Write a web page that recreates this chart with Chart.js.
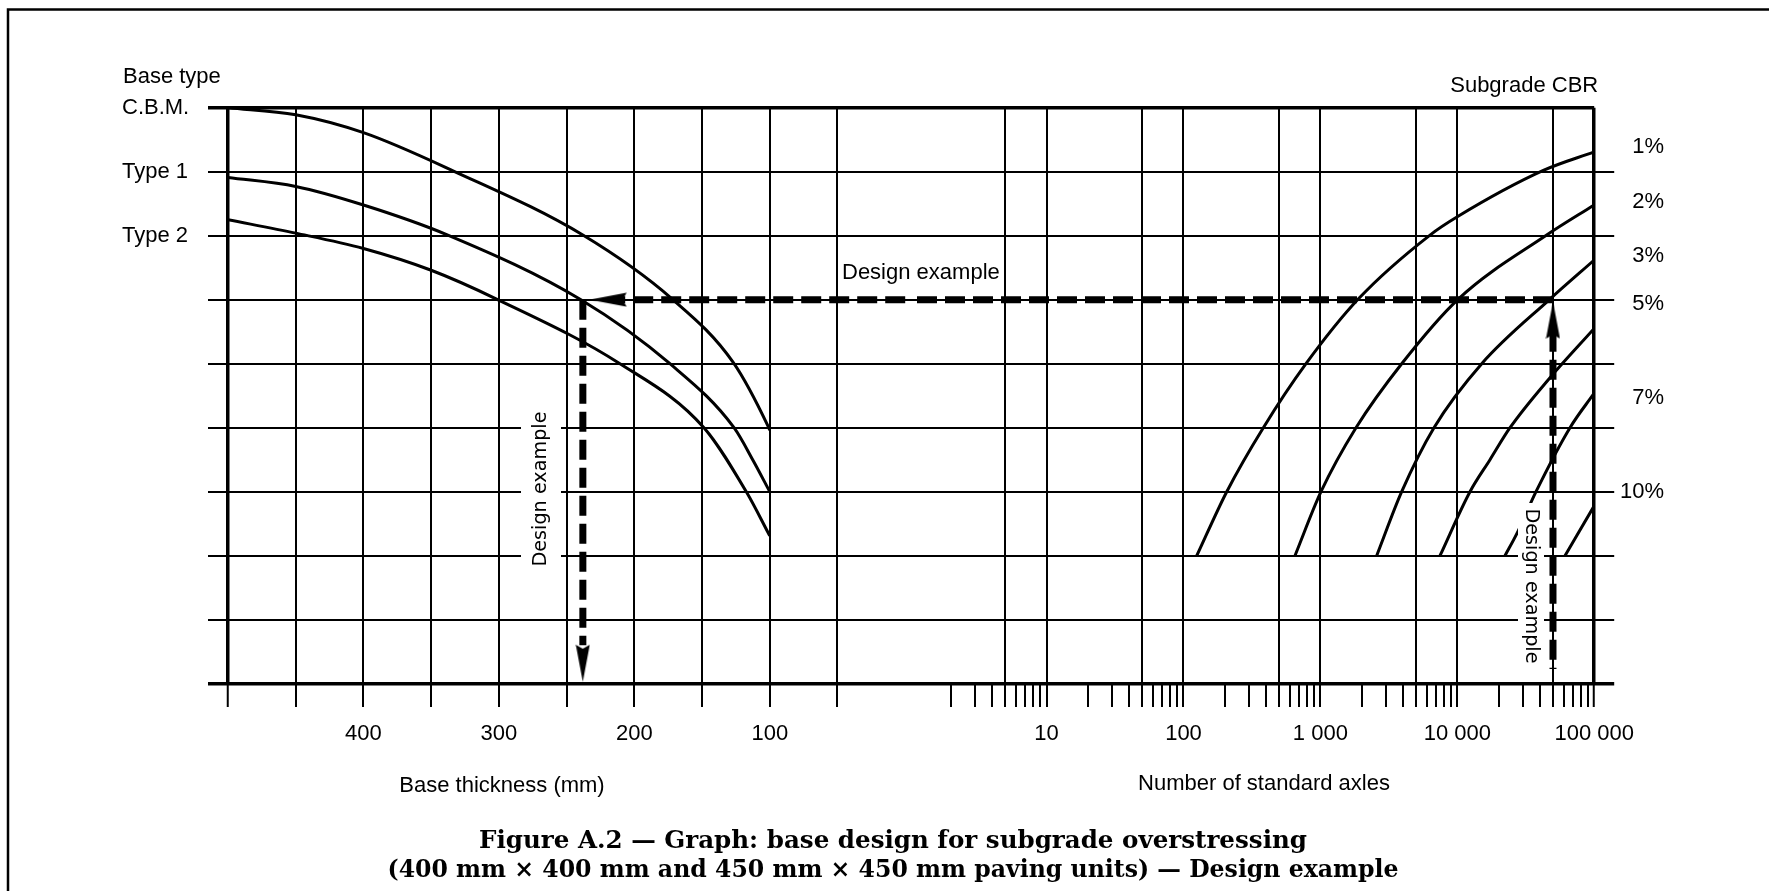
<!DOCTYPE html>
<html>
<head>
<meta charset="utf-8">
<title>Figure A.2 — base design for subgrade overstressing</title>
<script src="https://cdn.jsdelivr.net/npm/chart.js@4.4.1/dist/chart.umd.min.js"></script>
<style>
  html, body { margin: 0; padding: 0; background: #fff; }
  #wrap { width: 1769px; height: 891px; }
</style>
</head>
<body>
<div id="wrap"><canvas id="chart" width="1769" height="891"></canvas></div>
<script>
(function() {
  "use strict";

  const ISO_FONT = "'Liberation Sans', Arial, sans-serif";
  const ROT_FONT = "'DejaVu Sans', sans-serif";
  const CAP_FONT = "'DejaVu Serif', serif";

  // ── Axes / ticks ──
  const thicknessGrid = [500, 450, 400, 350, 300, 250, 200, 150, 100, 50];
  const thicknessLabels = [400, 300, 200, 100];
  const axleTicks = [2, 3, 4, 5, 6, 7, 8, 9,
    10, 20, 30, 40, 50, 60, 70, 80, 90,
    100, 200, 300, 400, 500, 600, 700, 800, 900,
    1000, 2000, 3000, 4000, 5000, 6000, 7000, 8000, 9000,
    10000, 20000, 30000, 40000, 50000, 60000, 70000, 80000, 90000,
    100000];
  const axleGrid = [5, 10, 50, 100, 500, 1000, 5000, 10000, 50000, 100000];
  const axleLabelValues = [10, 100, 1000, 10000, 100000];
  const axleLabelText = ['10', '100', '1 000', '10 000', '100 000'];
  const rows = [0, 1, 2, 3, 4, 5, 6, 7, 8, 9];
  const baseTypes = ['C.B.M.', 'Type 1', 'Type 2'];
  const baseTypeRows = [9, 8, 7];
  const cbrLabels = ['1%', '2%', '3%', '5%', '7%', '10%'];
  const cbrLabelRows = [8.39, 7.53, 6.68, 5.93, 4.46, 3.0];

  // ── Base curves (thickness mm -> row) ──
  const cbmT   = [500, 450, 400, 333.5, 238, 172, 127, 101.2, 100];
  const cbmY   = [9.0, 8.89, 8.61, 8.01, 7.01, 6.01, 5.02, 4.02, 3.96];
  const type1T = [500, 450, 400, 337.7, 239.4, 173.7, 126.4, 112.1, 100];
  const type1Y = [7.91, 7.77, 7.48, 7.01, 6.0, 5.0, 4.0, 3.48, 3.0];
  const type2T = [500, 450, 400, 350, 301.7, 210.6, 148.6, 117.1, 100];
  const type2Y = [7.25, 7.04, 6.8, 6.46, 6.01, 5.0, 4.0, 2.99, 2.31];

  // ── Subgrade CBR curves (number of standard axles -> row) ──
  const cbr1N  = [125, 207, 383, 785, 1890, 6320, 10070, 42480, 100000];
  const cbr1Y  = [2.0, 3.0, 4.0, 5.0, 6.01, 7.01, 7.3, 8.02, 8.31];
  const cbr2N  = [652, 1010, 1820, 3925, 10170, 44980, 100000];
  const cbr2Y  = [2.0, 3.0, 4.0, 5.0, 6.01, 7.01, 7.48];
  const cbr3N  = [2578, 3925, 6757, 15080, 47550, 100000];
  const cbr3Y  = [2.0, 3.0, 4.0, 5.0, 6.01, 6.62];
  const cbr5N  = [7475, 12380, 17330, 24270, 46210, 100000];
  const cbr5Y  = [2.0, 3.0, 3.5, 4.0, 4.75, 5.55];
  const cbr7N  = [22300, 27160, 37580, 66560, 100000];
  const cbr7Y  = [2.0, 2.34, 3.0, 4.0, 4.54];
  const cbr10N = [61190, 100000];
  const cbr10Y = [2.0, 2.78];

  // ── Design example ──
  const designRow = 6;
  const designThickness = 238;
  const designAxles = 50000;
  const designHorizAxles = [50000, 1];
  const designHorizThick = [0, 210];
  const designDownRows = [6, 0.6];
  const designUpRows = [5.5, 0.23];
  const arrowLeftTip = 233;
  const arrowDownTip = 0.03;
  const arrowUpTip = 5.97;

  // Arrow head drawn into a small canvas, tip at the centre, pointing up
  function makeArrow() {
    const c = document.createElement('canvas');
    c.width = 15; c.height = 76;
    const g = c.getContext('2d');
    g.fillStyle = '#000';
    g.beginPath();
    g.moveTo(7.5, 38);
    g.lineTo(14.5, 75);
    g.lineTo(7.5, 71);
    g.lineTo(0.5, 75);
    g.closePath();
    g.fill();
    return c;
  }
  const arrowImg = makeArrow();

  function pairs(xs, ys) { return xs.map((x, i) => ({ x: x, y: ys[i] })); }

  function curve(xAxisID, xs, ys) {
    return {
      xAxisID, yAxisID: 'y', data: pairs(xs, ys),
      borderColor: '#000', borderWidth: 3, pointRadius: 0,
      cubicInterpolationMode: 'monotone', fill: false
    };
  }

  function dashed(xAxisID, xs, ys) {
    return {
      xAxisID, yAxisID: 'y', data: pairs(xs, ys),
      borderColor: '#000', borderWidth: 7, borderDash: [20, 8],
      pointRadius: 0, tension: 0, fill: false
    };
  }

  function arrow(xAxisID, x, y, rotation) {
    return {
      xAxisID, yAxisID: 'y', data: [{ x: x, y: y }], showLine: false,
      pointStyle: arrowImg, pointRadius: 8, pointRotation: rotation
    };
  }

  // first dataset is painted last (on top)
  const datasets = [
    arrow('xt', arrowLeftTip, designRow, -90),
    arrow('xt', designThickness, arrowDownTip, 180),
    arrow('xn', designAxles, arrowUpTip, 0),
    dashed('xn', designHorizAxles, [designRow, designRow]),
    dashed('xt', designHorizThick, [designRow, designRow]),
    dashed('xt', [designThickness, designThickness], designDownRows),
    dashed('xn', [designAxles, designAxles], designUpRows),
    curve('xt', cbmT, cbmY),
    curve('xt', type1T, type1Y),
    curve('xt', type2T, type2Y),
    curve('xn', cbr1N, cbr1Y),
    curve('xn', cbr2N, cbr2Y),
    curve('xn', cbr3N, cbr3Y),
    curve('xn', cbr5N, cbr5Y),
    curve('xn', cbr7N, cbr7Y),
    curve('xn', cbr10N, cbr10Y),
  ];

  // ── Texts, frame ──

  function fitFont(ctx, text, weight, family, width) {
    ctx.font = `${weight} 100px ${family}`;
    return 100 * width / ctx.measureText(text).width;
  }

  function labelBox(ctx, cx, cy, w, h, angle, text, size) {
    ctx.save();
    ctx.fillStyle = '#fff';
    ctx.fillRect(cx - w / 2, cy - h / 2, w, h);
    ctx.translate(cx, cy);
    ctx.rotate(angle);
    ctx.fillStyle = '#000';
    ctx.font = `${size}px ${ROT_FONT}`;
    ctx.textAlign = 'center';
    ctx.textBaseline = 'middle';
    ctx.fillText(text, 0, 0);
    ctx.restore();
  }

  // centred text squeezed/stretched to a given width
  function fitLine(ctx, text, cx, baseline, width) {
    const k = width / ctx.measureText(text).width;
    ctx.save();
    ctx.translate(cx, baseline);
    ctx.scale(k, 1);
    ctx.textAlign = 'center';
    ctx.fillText(text, 0, 0);
    ctx.restore();
  }

  const figurePlugin = {
    id: 'figure',
    beforeDraw(chart) {
      const ctx = chart.ctx;
      ctx.save();
      ctx.fillStyle = '#fff';
      ctx.fillRect(0, 0, chart.width, chart.height);
      ctx.strokeStyle = '#000';
      ctx.lineWidth = 2.5;
      ctx.beginPath();
      ctx.moveTo(8, chart.height);
      ctx.lineTo(8, 9.5);
      ctx.lineTo(chart.width, 9.5);
      ctx.stroke();
      ctx.restore();
    },
    afterDatasetsDraw(chart) {
      const ctx = chart.ctx;
      const ca = chart.chartArea;
      ctx.save();
      ctx.fillStyle = '#000';
      ctx.font = `22px ${ISO_FONT}`;
      ctx.textBaseline = 'alphabetic';

      ctx.textAlign = 'left';
      ctx.fillText('Base type', ca.left - 105, ca.top - 25);
      ctx.fillText('Design example', 842, 279);
      ctx.textAlign = 'right';
      ctx.fillText('Subgrade CBR', ca.right + 4, ca.top - 16);
      ctx.textAlign = 'center';
      ctx.fillText('Base thickness (mm)', 502, 792);
      ctx.fillText('Number of standard axles', 1264, 790);

      // rotated design example labels
      const rotSize = fitFont(ctx, 'Design example', 'normal', ROT_FONT, 155);
      labelBox(ctx, 541, 489, 40, 166, -Math.PI / 2, 'Design example', rotSize);
      labelBox(ctx, 1531, 586, 26, 166, Math.PI / 2, 'Design example', rotSize);

      // caption
      const line1 = 'Figure A.2 \u2014 Graph: base design for subgrade overstressing';
      const line2 = '(400 mm \u00d7 400 mm and 450 mm \u00d7 450 mm paving units) \u2014 Design example';
      const capSize = fitFont(ctx, line2, 'bold', CAP_FONT, 1011);
      ctx.font = `bold ${capSize}px ${CAP_FONT}`;
      fitLine(ctx, line1, 893, 848, 828);
      fitLine(ctx, line2, 893, 877, 1011);
      ctx.restore();
    }
  };

  const tickFont = { family: ISO_FONT, size: 22 };
  const clear = 'rgba(0,0,0,0)';

  Chart.defaults.color = '#000';
  Chart.defaults.font.family = ISO_FONT;

  new Chart(document.getElementById('chart'), {
    type: 'line',
    data: { datasets },
    options: {
      responsive: false,
      animation: false,
      devicePixelRatio: 1,
      layout: { padding: { left: 122, right: 105, top: 107.7, bottom: 207.3 } },
      plugins: { legend: { display: false }, tooltip: { enabled: false } },
      scales: {
        xt: {
          type: 'linear', axis: 'x', position: { y: 0 }, reverse: true,
          min: -508.7, max: 500, bounds: 'data',
          afterBuildTicks: s => { s.ticks = thicknessGrid.map(v => ({ value: v })); },
          grid: {
            color: '#000', tickColor: '#000', tickLength: 23, tickWidth: 2,
            lineWidth: c => (c.tick && c.tick.value === 500) ? 3.5 : 2
          },
          border: { display: false },
          ticks: {
            autoSkip: false, maxRotation: 0, padding: 14, color: '#000', font: tickFont,
            callback: v => thicknessLabels.includes(v) ? String(v) : ''
          }
        },
        xn: {
          type: 'logarithmic', axis: 'x', position: { y: 0 },
          min: 1.0484e-5, max: 100000, bounds: 'data',
          afterBuildTicks: s => { s.ticks = axleTicks.map(v => ({ value: v })); },
          grid: {
            color: c => (c.tick && axleGrid.includes(c.tick.value)) ? '#000' : clear,
            tickColor: '#000', tickLength: 23, tickWidth: 2,
            lineWidth: c => (c.tick && c.tick.value === 100000) ? 3.5 : 2
          },
          border: { display: false },
          ticks: {
            autoSkip: false, maxRotation: 0, padding: 14, color: '#000', font: tickFont,
            callback: v => {
              const i = axleLabelValues.indexOf(v);
              return i >= 0 ? axleLabelText[i] : '';
            }
          }
        },
        y: {
          type: 'linear', position: 'left', min: 0, max: 9,
          afterBuildTicks: s => { s.ticks = rows.map(v => ({ value: v })); },
          afterFit: s => { s.width = 106; },
          grid: {
            color: '#000', tickLength: 20,
            lineWidth: c => (c.tick && (c.tick.value === 0 || c.tick.value === 9)) ? 3.5 : 2
          },
          border: { display: false },
          ticks: {
            autoSkip: false, crossAlign: 'far', color: '#000', font: tickFont,
            callback: v => {
              const i = baseTypeRows.indexOf(v);
              return i >= 0 ? baseTypes[i] : '';
            }
          }
        },
        yr: {
          type: 'linear', position: 'right', min: 0, max: 9,
          afterBuildTicks: s => {
            s.ticks = rows.map(v => ({ value: v })).concat(cbrLabelRows.map(v => ({ value: v })));
          },
          afterFit: s => { s.width = 69.8; },
          grid: {
            drawOnChartArea: false, tickLength: 20,
            color: c => (c.index < rows.length && c.tick && c.tick.value !== 9) ? '#000' : clear,
            lineWidth: c => (c.tick && c.tick.value === 0) ? 3.5 : 2
          },
          border: { display: false },
          ticks: {
            autoSkip: false, crossAlign: 'far', color: '#000', font: tickFont,
            callback: (v, i) => i >= rows.length ? cbrLabels[i - rows.length] : ''
          }
        }
      }
    },
    plugins: [figurePlugin]
  });

})();
</script>
</body>
</html>
